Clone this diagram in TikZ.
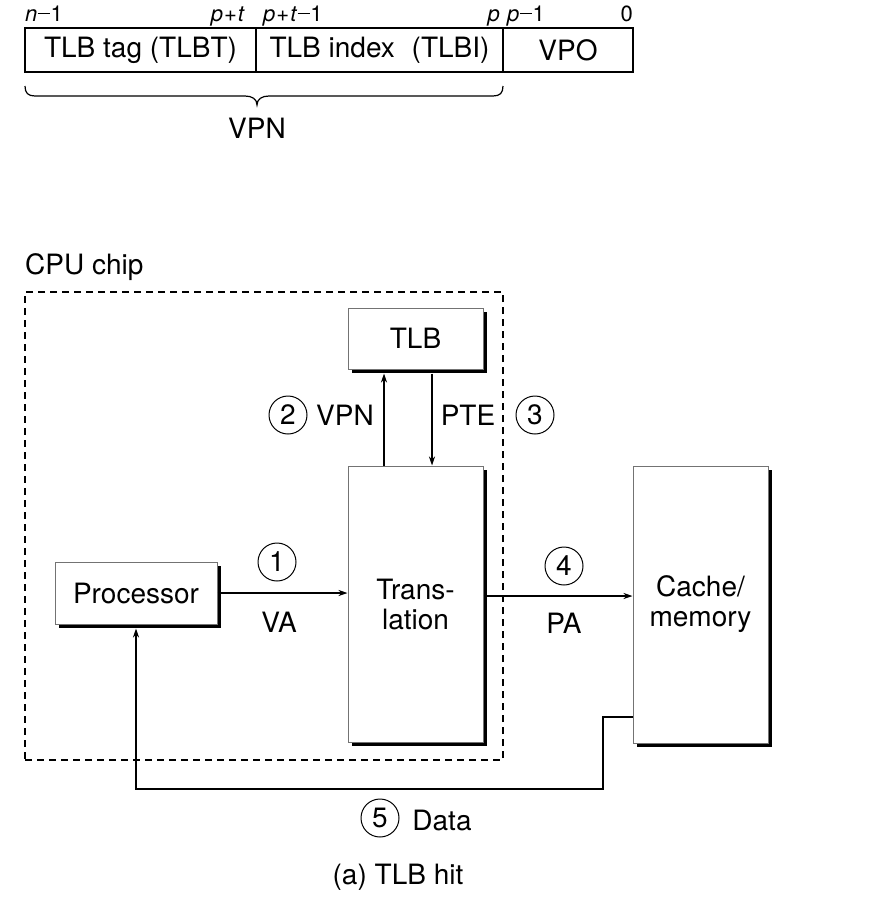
\documentclass[tikz,border=0pt]{standalone}
\usepackage{fontspec}
\setmainfont{TeX Gyre Heros}
\usetikzlibrary{arrows.meta,shadows}
\newcommand{\mn}{\kern0.5pt\rule[0.3em]{0.55em}{0.07em}\kern0.5pt}
\newcommand{\pl}{\kern1pt+\kern1pt}
\begin{document}
\begin{tikzpicture}[x=1pt,y=-1pt,
  every node/.style={font=\fontsize{28}{30}\selectfont},
  field/.style={draw,line width=1.2pt,minimum height=44pt,inner sep=0pt,anchor=center},
  bitlbl/.style={font=\fontsize{22}{24}\selectfont,inner sep=0pt},
  unit/.style={draw=black!55,line width=1pt,fill=white,inner sep=0pt,align=center,
    drop shadow={shadow xshift=4pt,shadow yshift=-4pt,fill=black,opacity=1}},
  numc/.style={draw,circle,line width=1pt,minimum size=38pt,inner sep=0pt},
  arr/.style={line width=1.2pt,-{Stealth[length=9pt,width=6pt]}},
  chipbox/.style={draw,line width=1.2pt,dash pattern=on 7pt off 5pt,inner sep=0pt}
]
\useasboundingbox (0,0) rectangle (888,902);

% bit field
\node[field,minimum width=231pt] (tag) at (140.5,50) {TLB tag (TLBT)};
\node[field,minimum width=247pt] (idx) at (379.5,50) {TLB index\hspace{0.6em}(TLBI)};
\node[field,minimum width=130pt] (vpo) at (568,50) {VPO};

\node[bitlbl,anchor=base west] (ln) at (25,21) {\textit{n}\mn1};
\node[bitlbl,anchor=base east] (lpt) at (245,21) {\textit{p}\pl\textit{t}};
\node[bitlbl,anchor=base west] (lpt1) at (263,21) {\textit{p}\pl\textit{t}\mn1};
\node[bitlbl,anchor=base east] (lp) at (500,21) {\textit{p}};
\node[bitlbl,anchor=base west] (lp1) at (507,21) {\textit{p}\mn1};
\node[bitlbl,anchor=base east] (l0) at (633,21) {0};

% brace
\draw[line width=1.2pt] (25,86) .. controls (25,93) and (28,96) .. (35,96) -- (245,96)
  .. controls (252,96) and (257,99) .. (257,105)
  .. controls (257,99) and (262,96) .. (269,96) -- (493,96)
  .. controls (500,96) and (503,93) .. (503,86);
\node (vpn) at (257,128) {VPN};

% CPU chip
\node[anchor=west,inner sep=0pt] (cpu) at (25,267) {CPU chip};
\node[chipbox,minimum width=478pt,minimum height=468pt] (chip) at (264,526) {};

% units
\node[unit,minimum width=135pt,minimum height=61pt] (tlb) at (415.5,338.5) {TLB};
\node[unit,minimum width=135pt,minimum height=276pt] (trans) at (415.5,604) {Trans-\\lation};
\node[unit,minimum width=162pt,minimum height=62pt] (proc) at (136,593) {Processor};
\node[unit,minimum width=135pt,minimum height=277pt] (cache) at (700.5,604.5) {Cache/\\memory};

% connectors
\draw[arr] (proc.east) -- (proc.east -| trans.west);
\coordinate (pay) at (0,596);
\draw[arr] (trans.east |- pay) -- (cache.west |- pay);
\draw[arr] ([xshift=-31.5pt]trans.north) -- ([xshift=-31.5pt,yshift=-4pt]tlb.south);
\draw[arr] ([xshift=16.5pt,yshift=-4pt]tlb.south) -- ([xshift=16.5pt]trans.north);
\coordinate (d1) at (603,717);
\coordinate (d2) at (603,789);
\draw[arr] (cache.west |- d1) -- (d1) -- (d2) -- (d2 -| proc.south) -- ([yshift=-4pt]proc.south);

% labels
\node[numc] (c1) at (277,562) {1};
\node (va) at (279,622) {VA};
\node[numc] (c2) at (288,415) {2};
\node (vpnl) at (345,415) {VPN};
\node (pte) at (468,415) {PTE};
\node[numc] (c3) at (535,415) {3};
\node[numc] (c4) at (564,566) {4};
\node (pa) at (564,623) {PA};
\node[numc] (c5) at (380,818) {5};
\node (data) at (442,820) {Data};
\node (cap) at (398,877) {(a) TLB hit};
\end{tikzpicture}
\end{document}
